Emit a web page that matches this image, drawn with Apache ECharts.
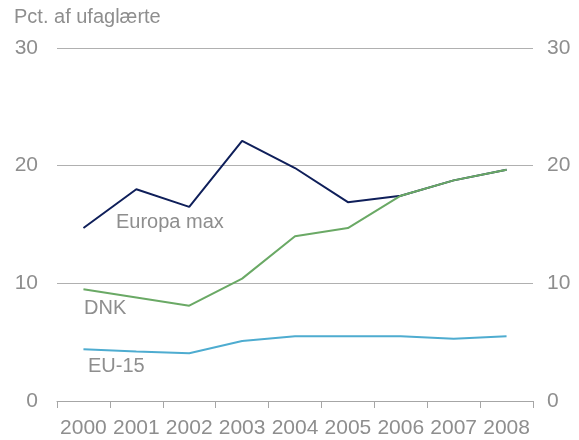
<!DOCTYPE html>
<html>
<head>
<meta charset="utf-8">
<script src="https://cdn.jsdelivr.net/npm/echarts@6/dist/echarts.min.js"></script>
<style>
	html, body { margin: 0; padding: 0; background: #fff; }
	#chart { width: 579px; height: 440px; }
</style>
</head>
<body>
<div id="chart"></div>
<script>
var years = ['2000', '2001', '2002', '2003', '2004', '2005', '2006', '2007', '2008'];
var europaMax = [14.7, 18.0, 16.5, 22.1, 19.8, 16.9, 17.45, 18.75, 19.65];
var dnk = [9.5, 8.8, 8.1, 10.4, 14.0, 14.7, 17.45, 18.75, 19.65];
var eu15 = [4.4, 4.2, 4.05, 5.1, 5.5, 5.5, 5.5, 5.3, 5.5];

var grey = '#8e8e8e';
var font = 'Liberation Sans, Arial, sans-serif';

var chart = echarts.init(document.getElementById('chart'));

var option = {
	animation: false,
	textStyle: { fontFamily: font },
	grid: { left: 57, right: 46, top: 48, bottom: 39 },
	xAxis: {
		type: 'category',
		data: years,
		boundaryGap: true,
		axisLine: { lineStyle: { color: '#a6a6a6', width: 1 } },
		axisTick: { show: true, length: 7, lineStyle: { color: '#a6a6a6' } },
		axisLabel: { color: grey, fontSize: 21, margin: 17, interval: 0 }
	},
	yAxis: [{
		type: 'value',
		min: 0, max: 30, interval: 10,
		axisLine: { show: false },
		axisTick: { show: false },
		axisLabel: { color: grey, fontSize: 21, margin: 19 },
		splitLine: { lineStyle: { color: '#b0b0b0', width: 1 } }
	}, {
		type: 'value',
		position: 'right',
		min: 0, max: 30, interval: 10,
		axisLine: { show: false },
		axisTick: { show: false },
		axisLabel: { color: grey, fontSize: 21, margin: 14 },
		splitLine: { show: false }
	}],
	series: [{
		name: 'EU-15',
		type: 'line',
		data: eu15,
		symbol: 'none',
		lineStyle: { color: '#4eacd0', width: 2 }
	}, {
		name: 'DNK',
		type: 'line',
		data: dnk,
		symbol: 'none',
		lineStyle: { color: '#6aa965', width: 2 },
		z: 3
	}, {
		name: 'Europa max',
		type: 'line',
		data: europaMax,
		symbol: 'none',
		lineStyle: { color: '#0f1f5a', width: 2 },
		z: 2
	}],
	graphic: [{
		type: 'text', left: 14, top: 7,
		style: { text: 'Pct. af ufaglærte', fill: grey, font: '20px ' + font }
	}, {
		type: 'text', left: 116, top: 212,
		style: { text: 'Europa max', fill: grey, font: '20px ' + font }
	}, {
		type: 'text', left: 84, top: 298,
		style: { text: 'DNK', fill: grey, font: '20px ' + font }
	}, {
		type: 'text', left: 88, top: 356,
		style: { text: 'EU-15', fill: grey, font: '20px ' + font }
	}]
};

chart.setOption(option);
</script>
</body>
</html>
